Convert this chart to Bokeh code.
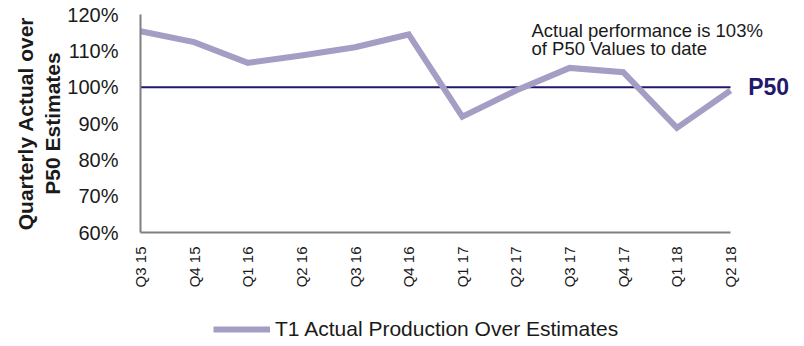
import math
from bokeh.plotting import figure
from bokeh.layouts import column
from bokeh.models import (Range1d, FixedTicker, PrintfTickFormatter, Label,
                          Legend, LegendItem)
from bokeh.embed import file_html
from bokeh.resources import INLINE

quarters = ["Q3 15", "Q4 15", "Q1 16", "Q2 16", "Q3 16", "Q4 16",
            "Q1 17", "Q2 17", "Q3 17", "Q4 17", "Q1 18", "Q2 18"]
actual_over_p50 = [115.4, 112.4, 106.7, 108.7, 111.0, 114.5,
                   91.9, 99.1, 105.3, 104.1, 88.8, 99.1]
y_ticks = [60, 70, 80, 90, 100, 110, 120]
p50_level = 100
series_name = "T1 Actual Production Over Estimates"
note_lines = ["Actual performance is 103%", "of P50 Values to date"]
y_title = "Quarterly Actual over\nP50 Estimates"

FONT = "Liberation Sans"
LINE_COLOR = "#a59dc3"
NAVY = "#1f1a6e"
AXIS_GRAY = "#7f7f7f"
TEXT = "#1a1a1a"

n = len(quarters)
xs = list(range(n))

# frame runs from x=140 to the right edge; the category span (0..n-1) covers 590 px
px_per_cat = 590 / (n - 1)
x_end = 664 / px_per_cat

p = figure(width=804, height=300, output_backend="svg", toolbar_location=None,
           x_range=Range1d(0, x_end), y_range=Range1d(60, 120),
           min_border_left=140, min_border_right=0, min_border_top=14,
           min_border_bottom=68)
p.outline_line_color = None
p.xgrid.visible = False
p.ygrid.visible = False
p.background_fill_color = "white"
p.border_fill_color = "white"

# P50 reference line over the category span
p.line([xs[0], xs[-1]], [p50_level, p50_level], line_color=NAVY, line_width=2)

p.line(xs, actual_over_p50, line_color=LINE_COLOR, line_width=6, line_join="miter")

# axes
xa = p.xaxis[0]
xa.ticker = FixedTicker(ticks=xs)
xa.bounds = (xs[0], xs[-1])
xa.major_label_overrides = {i: q for i, q in enumerate(quarters)}
xa.major_label_orientation = math.pi / 2
xa.major_label_text_font = FONT
xa.major_label_text_font_size = "15px"
xa.major_label_text_color = TEXT
xa.major_label_standoff = 8
xa.major_tick_line_color = None
xa.minor_tick_line_color = None
xa.axis_line_color = AXIS_GRAY
xa.axis_line_width = 2

ya = p.yaxis[0]
ya.ticker = FixedTicker(ticks=y_ticks)
ya.formatter = PrintfTickFormatter(format="%d%%")
ya.major_label_text_font = FONT
ya.major_label_text_font_size = "20px"
ya.major_label_text_color = TEXT
ya.major_label_standoff = 16
ya.major_tick_line_color = None
ya.minor_tick_line_color = None
ya.axis_line_color = AXIS_GRAY
ya.axis_line_width = 2
ya.axis_label = y_title
ya.axis_label_text_font = FONT
ya.axis_label_text_font_style = "bold"
ya.axis_label_text_font_size = "21px"
ya.axis_label_text_color = TEXT
ya.axis_label_standoff = 0

# note
for i, t in enumerate(note_lines):
    p.add_layout(Label(x=7.29, y=118.6 - i * 5.0, text=t, text_align="left",
                       text_baseline="top", text_font=FONT, text_font_size="18.5px",
                       text_color=TEXT))

# P50 label
p.add_layout(Label(x=11.33, y=p50_level, text="P50", text_align="left",
                   text_baseline="middle", text_font=FONT, text_font_style="bold",
                   text_font_size="23px", text_color=NAVY))

# legend strip below the chart (its frame is aligned with the chart frame at x=140)
lg = figure(width=804, height=46, output_backend="svg", toolbar_location=None,
            x_range=Range1d(0, 1), y_range=Range1d(0, 1),
            x_axis_type=None, y_axis_type=None,
            min_border_left=140, min_border_right=0, min_border_top=0,
            min_border_bottom=0)
lg.outline_line_color = None
lg.xgrid.visible = False
lg.ygrid.visible = False
lg.background_fill_color = "white"
lg.border_fill_color = "white"
# same series drawn out of this strip's view, only to feed the legend swatch
swatch = lg.line(xs, actual_over_p50, line_color=LINE_COLOR, line_width=6)
legend = Legend(items=[LegendItem(label=series_name, renderers=[swatch])],
                location=(73, 5), orientation="horizontal",
                glyph_width=57, glyph_height=20, padding=0, margin=0,
                label_text_font=FONT, label_text_font_size="21px",
                label_text_color=TEXT, border_line_color=None,
                background_fill_alpha=0, label_standoff=5)
lg.add_layout(legend, "center")

layout = column(p, lg, spacing=0)
open("out.html", "w").write(file_html(layout, INLINE))
